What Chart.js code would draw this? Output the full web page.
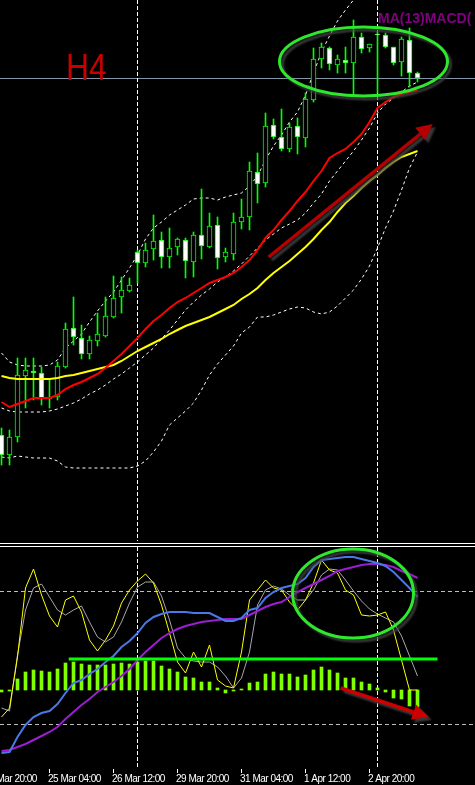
<!DOCTYPE html>
<html>
<head>
<meta charset="utf-8">
<script src="https://cdn.jsdelivr.net/npm/chart.js@4.4.1/dist/chart.umd.min.js"></script>
<style>
    html, body { margin: 0; padding: 0; background: #000; }
    body { width: 475px; height: 785px; position: relative; overflow: hidden; }
    #pricePane { position: absolute; left: 0; top: 0; }
    #macdPane { position: absolute; left: 0; top: 547px; }
    .sep { position: absolute; left: 0; width: 475px; height: 1px; background: #fff; }
</style>
</head>
<body>
<canvas id="pricePane" width="475" height="541"></canvas>
<div class="sep" style="top:543px"></div>
<div class="sep" style="top:546px"></div>
<canvas id="macdPane" width="475" height="238"></canvas>

<script>
// H4 candles, bar 0 = 24 Mar 04:00
const opens = [91.65, 91.45, 91.63, 92.24, 92.29, 92.27, 92.01, 92.03, 92.33, 92.72,
    92.62, 92.46, 92.59, 92.64, 92.83, 93.03, 93.09, 93.48, 93.37, 93.51,
    93.60, 93.43, 93.53, 93.60, 93.38, 93.65, 93.53, 93.75, 93.43, 93.46,
    93.78, 93.83, 94.28, 94.17, 94.75, 94.63, 94.51, 94.74, 94.62, 95.00,
    95.41, 95.52, 95.35, 95.40, 95.37, 95.63, 95.52, 95.66, 95.65, 95.53,
    95.38, 95.60, 95.27];
const highs = [91.72, 91.70, 92.42, 92.42, 92.42, 92.33, 92.20, 92.38, 92.77, 93.03,
    92.75, 92.64, 92.87, 93.03, 93.24, 93.23, 93.22, 93.50, 93.57, 93.85,
    93.68, 93.72, 93.62, 93.62, 93.68, 94.11, 93.87, 93.83, 93.52, 93.87,
    94.01, 94.38, 94.47, 94.87, 94.81, 94.91, 94.77, 94.82, 95.07, 95.52,
    95.57, 95.53, 95.45, 95.53, 95.80, 95.67, 95.56, 95.68, 95.67, 95.53,
    95.63, 95.72, 95.28];
const lows = [91.35, 91.35, 91.58, 91.92, 92.00, 91.95, 91.92, 92.00, 92.32, 92.55,
    92.41, 92.41, 92.54, 92.63, 92.82, 92.87, 93.08, 93.17, 93.33, 93.40,
    93.32, 93.32, 93.45, 93.22, 93.23, 93.41, 93.52, 93.31, 93.38, 93.40,
    93.71, 93.70, 93.97, 94.13, 94.61, 94.49, 94.48, 94.46, 94.53, 94.98,
    95.32, 95.30, 95.27, 95.27, 95.06, 95.47, 95.48, 95.07, 95.52, 95.35,
    95.24, 95.13, 95.18];
const closes = [91.45, 91.63, 92.25, 92.30, 92.27, 92.01, 92.02, 92.34, 92.71, 92.63,
    92.46, 92.60, 92.66, 92.84, 93.02, 93.10, 93.15, 93.37, 93.50, 93.59,
    93.43, 93.52, 93.61, 93.39, 93.65, 93.54, 93.74, 93.42, 93.48, 93.78,
    93.83, 94.29, 94.16, 94.74, 94.63, 94.51, 94.73, 94.63, 95.01, 95.41,
    95.53, 95.36, 95.41, 95.37, 95.63, 95.51, 95.56, 95.65, 95.53, 95.37,
    95.61, 95.27, 95.22];

const maRed = [91.98, 91.93, 91.96, 91.99, 92.02, 92.02, 92.02, 92.05, 92.11, 92.15,
    92.18, 92.22, 92.26, 92.32, 92.39, 92.46, 92.54, 92.62, 92.71, 92.79,
    92.85, 92.92, 92.98, 93.02, 93.07, 93.12, 93.17, 93.20, 93.23, 93.27,
    93.33, 93.40, 93.50, 93.62, 93.70, 93.80, 93.89, 93.99, 94.08, 94.19,
    94.29, 94.42, 94.47, 94.51, 94.58, 94.66, 94.78, 94.92, 94.98, 95.03,
    95.06, 95.08, 95.10];
const maYellow = [92.24, 92.22, 92.21, 92.21, 92.21, 92.21, 92.21, 92.22, 92.24, 92.25,
    92.27, 92.29, 92.31, 92.33, 92.35, 92.39, 92.44, 92.49, 92.53, 92.57,
    92.61, 92.66, 92.70, 92.74, 92.77, 92.80, 92.83, 92.87, 92.91, 92.95,
    93.01, 93.06, 93.12, 93.20, 93.27, 93.33, 93.39, 93.46, 93.53, 93.61,
    93.70, 93.78, 93.88, 93.97, 94.04, 94.12, 94.19, 94.25, 94.32, 94.38,
    94.43, 94.46, 94.49];
const bandUpper = [92.47, 92.38, 92.35, 92.34, 92.34, 92.34, 92.35, 92.40, 92.52, 92.59,
    92.66, 92.78, 92.89, 92.99, 93.08, 93.20, 93.32, 93.45, 93.61, 93.72,
    93.78, 93.85, 93.90, 93.95, 94.01, 94.02, 94.02, 94.00, 94.03, 94.05,
    94.07, 94.14, 94.24, 94.40, 94.54, 94.65, 94.78, 94.88, 95.05, 95.27,
    95.48, 95.64, 95.79, 95.90, 96.00, 96.12, 96.20, 96.25, 96.28, 96.28,
    96.26, 96.22, 96.18];
const bandMiddle = [91.92, 91.89, 91.88, 91.88, 91.88, 91.88, 91.89, 91.91, 91.94, 91.97,
    92.01, 92.06, 92.10, 92.15, 92.21, 92.26, 92.32, 92.38, 92.45, 92.52,
    92.61, 92.70, 92.80, 92.90, 92.98, 93.05, 93.11, 93.18, 93.23, 93.29,
    93.36, 93.44, 93.52, 93.60, 93.66, 93.72, 93.76, 93.80, 93.87, 93.97,
    94.06, 94.19, 94.29, 94.39, 94.49, 94.60, 94.72, 94.87, 94.96, 95.02,
    95.08, 95.14, 95.18];
const bandLower = [91.43, 91.42, 91.44, 91.43, 91.42, 91.42, 91.42, 91.39, 91.33, 91.32,
    91.32, 91.32, 91.32, 91.32, 91.32, 91.32, 91.32, 91.34, 91.39, 91.48,
    91.59, 91.75, 91.82, 91.89, 91.97, 92.10, 92.25, 92.36, 92.45, 92.54,
    92.67, 92.73, 92.83, 92.83, 92.85, 92.88, 92.91, 92.93, 92.92, 92.88,
    92.86, 92.88, 92.94, 93.02, 93.10, 93.21, 93.34, 93.52, 93.72, 93.89,
    94.10, 94.32, 94.48];

// lower window
const macdHist = [-0.02, -0.01, 0.11, 0.18, 0.20, 0.19, 0.18, 0.21, 0.27, 0.28,
    0.26, 0.25, 0.25, 0.25, 0.26, 0.27, 0.26, 0.28, 0.29, 0.29,
    0.24, 0.21, 0.18, 0.13, 0.12, 0.08, 0.08, 0.02, -0.03, -0.01,
    0.01, 0.07, 0.08, 0.16, 0.18, 0.16, 0.16, 0.13, 0.15, 0.20,
    0.23, 0.20, 0.17, 0.12, 0.12, 0.08, 0.06, 0.02, -0.02, -0.08,
    -0.09, -0.16, -0.17];
const oscYellow = [-0.27, -0.18, 0.33, 1.02, 1.21, 0.95, 0.74, 0.63, 0.90, 0.94,
    0.78, 0.50, 0.39, 0.50, 0.64, 0.87, 1.00, 1.09, 1.16, 1.07,
    0.85, 0.57, 0.28, 0.17, 0.38, 0.23, 0.45, 0.10, 0.04, 0.02,
    0.38, 0.90, 1.00, 1.10, 1.02, 1.00, 0.88, 0.80, 0.90, 1.07,
    1.30, 1.20, 1.17, 1.00, 0.95, 0.75, 0.74, 0.75, 0.78, 0.60,
    0.30, 0.00, 0.00];
const oscGray = [-0.18, -0.21, 0.35, 0.80, 1.02, 1.06, 0.93, 0.80, 0.75, 0.80,
    0.84, 0.68, 0.53, 0.48, 0.53, 0.68, 0.87, 1.03, 1.08, 1.08,
    0.94, 0.70, 0.42, 0.32, 0.29, 0.28, 0.28, 0.23, 0.14, 0.02,
    0.12, 0.38, 0.85, 1.00, 1.04, 1.01, 0.95, 0.90, 0.90, 1.00,
    1.15, 1.21, 1.20, 1.10, 0.99, 0.89, 0.81, 0.76, 0.72, 0.68,
    0.54, 0.34, 0.14];
const lineBlue = [-0.63, -0.62, -0.47, -0.35, -0.27, -0.23, -0.21, -0.14, -0.03, 0.07,
    0.10, 0.16, 0.21, 0.28, 0.34, 0.43, 0.49, 0.57, 0.67, 0.73,
    0.76, 0.78, 0.78, 0.78, 0.77, 0.77, 0.77, 0.73, 0.69, 0.69,
    0.72, 0.80, 0.82, 0.92, 0.98, 1.02, 1.04, 1.06, 1.12, 1.23,
    1.30, 1.31, 1.32, 1.33, 1.33, 1.31, 1.29, 1.27, 1.24, 1.18,
    1.10, 1.02, 0.93];
const linePurple = [-0.61, -0.60, -0.57, -0.54, -0.50, -0.46, -0.42, -0.37, -0.29, -0.22,
    -0.15, -0.09, -0.02, 0.03, 0.08, 0.14, 0.21, 0.30, 0.38, 0.45,
    0.52, 0.57, 0.61, 0.64, 0.66, 0.68, 0.69, 0.70, 0.71, 0.71,
    0.71, 0.75, 0.79, 0.83, 0.86, 0.88, 0.93, 0.98, 1.02, 1.06,
    1.10, 1.14, 1.19, 1.21, 1.23, 1.25, 1.26, 1.26, 1.25, 1.23,
    1.19, 1.16, 1.12];

// time axis
const tickBars = [-2, 6, 14, 22, 30, 38, 46];
const tickLabels = ["23 Mar 20:00", "25 Mar 04:00", "26 Mar 12:00", "29 Mar 20:00",
    "31 Mar 04:00", "1 Apr 12:00", "2 Apr 20:00"];
const weekBars = [17, 47];
const bidPrice = 95.22;
const macdLevels = [0.99, -0.34];

// hand drawn objects, in bar / value units
const levelBars = [8.4, 54.5];
const levelValue = [0.31, 0.31];
const priceEllipse = [45.25, 95.385, 10.5, 0.345];
const macdEllipse = [43.94, 0.965, 7.56, 0.445];
const priceArrow = [33.4, 93.43, 53.9, 94.76];
const macdArrow = [42.4, 0.02, 53.4, -0.27];

const bars = closes.map((_, i) => i);
const xy = arr => arr.map((v, i) => ({ x: i, y: v }));

function drawArrow(ctx, x1, y1, x2, y2, color) {
    const ang = Math.atan2(y2 - y1, x2 - x1);
    const bx = x2 - 16 * Math.cos(ang), by = y2 - 16 * Math.sin(ang);
    ctx.strokeStyle = color;
    ctx.fillStyle = color;
    ctx.lineWidth = 3.5;
    ctx.beginPath();
    ctx.moveTo(x1, y1);
    ctx.lineTo(bx, by);
    ctx.stroke();
    ctx.beginPath();
    ctx.moveTo(x2, y2);
    ctx.lineTo(bx + 8 * Math.sin(ang), by - 8 * Math.cos(ang));
    ctx.lineTo(bx - 8 * Math.sin(ang), by + 8 * Math.cos(ang));
    ctx.closePath();
    ctx.fill();
}

const sketch = {
    id: "sketch",
    beforeDatasetsDraw(chart, args, opts) {
        const { ctx, chartArea: a, scales: { x, y } } = chart;
        ctx.save();
        ctx.lineWidth = 1;
        if (opts.bid !== undefined) {
            const py = Math.round(y.getPixelForValue(opts.bid)) + 0.5;
            ctx.strokeStyle = "#8595a8";
            ctx.beginPath(); ctx.moveTo(a.left, py); ctx.lineTo(a.right, py); ctx.stroke();
        }
        ctx.strokeStyle = "#bdbdbd";
        ctx.setLineDash([4, 3]);
        (opts.levels || []).forEach(v => {
            const py = Math.round(y.getPixelForValue(v)) + 0.5;
            ctx.beginPath(); ctx.moveTo(a.left, py); ctx.lineTo(a.right, py); ctx.stroke();
        });
        ctx.strokeStyle = "#ffffff";
        ctx.setLineDash([4, 2]);
        weekBars.forEach(b => {
            const px = Math.floor(x.getPixelForValue(b)) + 0.5;
            ctx.beginPath(); ctx.moveTo(px, a.top); ctx.lineTo(px, a.bottom); ctx.stroke();
        });
        ctx.restore();
    },
    afterDatasetsDraw(chart, args, opts) {
        const { ctx, scales: { x, y } } = chart;
        ctx.save();
        ctx.shadowColor = "rgba(70,70,70,0.8)";
        ctx.shadowOffsetX = 3;
        ctx.shadowOffsetY = 3;
        ctx.shadowBlur = 2;
        if (opts.ellipse) {
            const [b, v, rb, rv] = opts.ellipse;
            const cx = x.getPixelForValue(b), cy = y.getPixelForValue(v);
            ctx.strokeStyle = "#2ee82e";
            ctx.lineWidth = 3;
            ctx.beginPath();
            ctx.ellipse(cx, cy, x.getPixelForValue(b + rb) - cx, cy - y.getPixelForValue(v + rv), 0, 0, Math.PI * 2);
            ctx.stroke();
        }
        if (opts.arrow) {
            const [b1, v1, b2, v2] = opts.arrow;
            drawArrow(ctx, x.getPixelForValue(b1), y.getPixelForValue(v1),
                x.getPixelForValue(b2), y.getPixelForValue(v2), opts.arrowColor);
        }
        ctx.restore();
    },
    afterDraw(chart, args, opts) {
        const { ctx, chartArea: a, scales: { x } } = chart;
        ctx.save();
        if (opts.titles) {
            ctx.save();
            ctx.translate(66, 80);
            ctx.scale(0.86, 1);
            ctx.fillStyle = "#c80000";
            ctx.font = '37px "Liberation Sans", sans-serif';
            ctx.fillText("H4", 0, 0);
            ctx.restore();
            ctx.fillStyle = "#800080";
            ctx.font = 'bold 14px "Liberation Sans", sans-serif';
            ctx.fillText("MA(13)MACD(", 378, 23);
        }
        if (opts.timeAxis) {
            ctx.strokeStyle = "#ffffff";
            ctx.fillStyle = "#ffffff";
            ctx.lineWidth = 1;
            ctx.font = '10px "Liberation Sans", sans-serif';
            ctx.letterSpacing = "-0.5px";
            ctx.textBaseline = "alphabetic";
            tickBars.forEach((b, i) => {
                const px = Math.floor(x.getPixelForValue(b)) + 0.5;
                ctx.beginPath(); ctx.moveTo(px, a.bottom + 1); ctx.lineTo(px, a.bottom + 5); ctx.stroke();
                ctx.fillText(tickLabels[i], px - 1.5, a.bottom + 14);
            });
        }
        ctx.restore();
    }
};
Chart.register(sketch);

const xScale = { type: "linear", min: -0.1875, max: 59.1875, offset: false, display: false };

function bandSet(arr) {
    return { type: "line", data: xy(arr), borderColor: "#ffffff", borderWidth: 1,
        borderDash: [3, 3], pointRadius: 0, order: 5 };
}

new Chart(document.getElementById("pricePane"), {
    type: "bar",
    data: {
        datasets: [
            { type: "line", data: xy(maRed), borderColor: "#ff0000", borderWidth: 2, pointRadius: 0, order: 1 },
            { type: "line", data: xy(maYellow), borderColor: "#ffff00", borderWidth: 2, pointRadius: 0, order: 2 },
            {
                data: bars.map(i => ({ x: i, y: [opens[i], closes[i]] })),
                backgroundColor: bars.map(i => closes[i] < opens[i] ? "#ffffff" : "#000000"),
                borderColor: "#00ff00", borderWidth: 1, borderSkipped: false,
                barThickness: 5, grouped: false, order: 3
            },
            {
                data: bars.map(i => ({ x: i, y: [lows[i], highs[i]] })),
                backgroundColor: "#00ff00", borderWidth: 0,
                barThickness: 1, grouped: false, order: 4
            },
            bandSet(bandUpper),
            bandSet(bandMiddle),
            bandSet(bandLower)
        ]
    },
    options: {
        responsive: false, animation: false, events: [],
        layout: { padding: 0 },
        plugins: {
            legend: { display: false }, tooltip: { enabled: false },
            sketch: { bid: bidPrice, ellipse: priceEllipse, arrow: priceArrow, arrowColor: "#b40000", titles: true }
        },
        scales: { x: xScale, y: { min: 90.59, max: 96.00, display: false } }
    }
});

new Chart(document.getElementById("macdPane"), {
    type: "bar",
    data: {
        datasets: [
            { type: "line", data: levelBars.map((b, i) => ({ x: b, y: levelValue[i] })),
              borderColor: "#00ff00", borderWidth: 3, pointRadius: 0, order: 0 },
            { type: "line", data: xy(lineBlue), borderColor: "#4a78e8", borderWidth: 2, pointRadius: 0, order: 1 },
            { type: "line", data: xy(linePurple), borderColor: "#9b1ed2", borderWidth: 2, pointRadius: 0, order: 2 },
            { type: "line", data: xy(oscYellow), borderColor: "#ffff00", borderWidth: 1, pointRadius: 0, order: 3 },
            { type: "line", data: xy(oscGray), borderColor: "#a8a8a8", borderWidth: 1, pointRadius: 0, order: 4 },
            { data: xy(macdHist), backgroundColor: "#7fff00", barThickness: 3, grouped: false, order: 6 }
        ]
    },
    options: {
        responsive: false, animation: false, events: [],
        layout: { padding: { left: 0, right: 0, top: 0, bottom: 17 } },
        plugins: {
            legend: { display: false }, tooltip: { enabled: false },
            sketch: { levels: macdLevels, ellipse: macdEllipse, arrow: macdArrow, arrowColor: "#cc0000", timeAxis: true }
        },
        scales: { x: xScale, y: { min: -0.78, max: 1.43, display: false } }
    }
});
</script>
</body>
</html>
